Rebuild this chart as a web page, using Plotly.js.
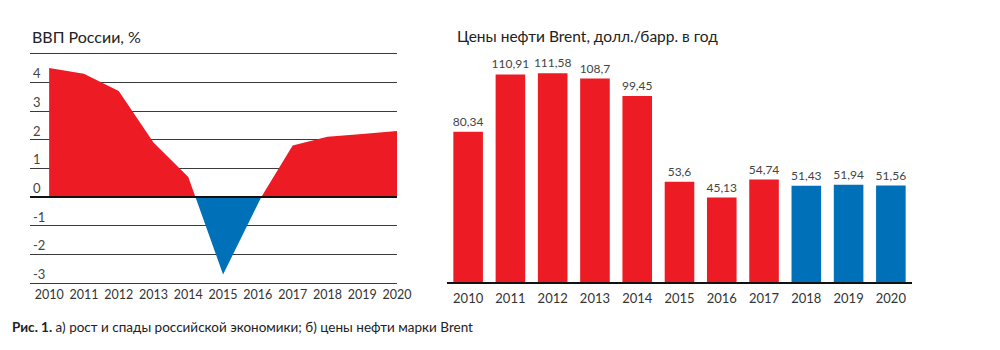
<!DOCTYPE html>
<html><head><meta charset="utf-8">
<script src="https://cdn.plot.ly/plotly-3.0.1.min.js"></script>
<style>html,body{margin:0;padding:0;background:#fff}#chart{width:1000px;height:350px}</style>
</head><body><div id="chart"></div>
<script>
// ---- data ----
const years = [2010, 2011, 2012, 2013, 2014, 2015, 2016, 2017, 2018, 2019, 2020];
const gdpGrowth = [4.5, 4.3, 3.7, 1.9, 0.7, -2.7, -0.2, 1.8, 2.1, 2.2, 2.3];
const gdpTickVals = [-3, -2, -1, 0, 1, 2, 3, 4, 5];
const gdpTickText = ['-3', '-2', '-1', '0', '1', '2', '3', '4', ''];
const brentPrice = [80.34, 110.91, 111.58, 108.7, 99.45, 53.6, 45.13, 54.74, 51.43, 51.94, 51.56];
const forecastFrom = 2018;
const titleGdp = 'ВВП России, %';
const titleBrent = 'Цены нефти Brent, долл./барр. в год';
const caption = '<b>Рис. 1.</b> а) рост и спады российской экономики; б) цены нефти марки Brent';

// ---- styles ----
const RED = '#ed1c24', BLUE = '#0070b8';
const FONT = 'Lato, "Open Sans", sans-serif';

// split series into positive / negative parts with interpolated zero crossings
function splitSign(xs, ys) {
  const px = [], py = [], nx = [], ny = [];
  for (let i = 0; i < xs.length; i++) {
    if (i > 0) {
      const y0 = ys[i - 1], y1 = ys[i];
      if ((y0 > 0 && y1 < 0) || (y0 < 0 && y1 > 0)) {
        const t = y0 / (y0 - y1);
        const xc = xs[i - 1] + t * (xs[i] - xs[i - 1]);
        px.push(xc); py.push(0); nx.push(xc); ny.push(0);
      }
    }
    px.push(xs[i]); py.push(Math.max(ys[i], 0));
    nx.push(xs[i]); ny.push(Math.min(ys[i], 0));
  }
  return { px, py, nx, ny };
}
const parts = splitSign(years, gdpGrowth);

const traces = [
  { type: 'scatter', mode: 'lines', x: parts.px, y: parts.py, fill: 'tozeroy',
    fillcolor: RED, line: { width: 0, color: RED }, xaxis: 'x', yaxis: 'y', hoverinfo: 'skip' },
  { type: 'scatter', mode: 'lines', x: parts.nx, y: parts.ny, fill: 'tozeroy',
    fillcolor: BLUE, line: { width: 0, color: BLUE }, xaxis: 'x', yaxis: 'y', hoverinfo: 'skip' },
  { type: 'bar', x: years, y: brentPrice, xaxis: 'x2', yaxis: 'y2', width: 0.7,
    marker: { color: years.map(y => y >= forecastFrom ? BLUE : RED) },
    text: brentPrice.map(v => String(v).replace('.', ',')),
    textposition: 'outside', cliponaxis: false, constraintext: 'none',
    textfont: { family: FONT, size: 12, color: '#444' }, hoverinfo: 'skip' }
];

// y tick labels of the GDP chart, placed just above each grid line at the left edge
const yTickAnnotations = gdpTickVals.map((v, i) => ({
  text: gdpTickText[i], xref: 'paper', yref: 'y', x: 0.031, y: v,
  xanchor: 'left', yanchor: 'bottom', yshift: -1, showarrow: false,
  font: { size: 13, color: '#444' }
})).filter(a => a.text !== '');

const layout = {
  width: 1000, height: 350,
  margin: { l: 0, r: 0, t: 0, b: 0 },
  paper_bgcolor: '#fff', plot_bgcolor: 'rgba(0,0,0,0)',
  showlegend: false,
  font: { family: FONT, color: '#333' },
  xaxis: {
    domain: [0.030, 0.397], range: [2009.45, 2020], anchor: 'y',
    tickvals: years, ticktext: years.map(String), ticks: '', showgrid: false, zeroline: false,
    showline: false, tickfont: { size: 12.5, color: '#333' }, ticklabelstandoff: 0
  },
  yaxis: {
    domain: [0.1831, 0.8549], range: [-3.1, 5.1], anchor: 'x',
    tickvals: gdpTickVals, showticklabels: false, ticks: '',
    showgrid: true, gridcolor: '#3a3a3a', gridwidth: 1, zeroline: false, showline: false
  },
  xaxis2: {
    domain: [0.447, 0.912], range: [2009.5, 2020.5], anchor: 'y2',
    tickvals: years, ticktext: years.map(String), ticks: '', showgrid: false, zeroline: false,
    showline: true, linecolor: '#111', linewidth: 2,
    tickfont: { size: 13, color: '#333' }, ticklabelstandoff: 3
  },
  yaxis2: {
    domain: [0.1943, 0.86], range: [0, 124.5], anchor: 'x2',
    showticklabels: false, showgrid: false, zeroline: false, showline: false, ticks: ''
  },
  shapes: [
    { type: 'line', xref: 'x domain', x0: 0, x1: 1, yref: 'y', y0: 0, y1: 0,
      line: { color: '#111', width: 2 }, layer: 'above' }
  ],
  annotations: yTickAnnotations.concat([
    { text: titleGdp, xref: 'paper', yref: 'paper', x: 0.030, y: 0.897, xanchor: 'left', yanchor: 'middle',
      showarrow: false, font: { size: 16, color: '#222' } },
    { text: titleBrent, xref: 'paper', yref: 'paper', x: 0.455, y: 0.897, xanchor: 'left', yanchor: 'middle',
      showarrow: false, font: { size: 15.5, color: '#222' } },
    { text: caption, xref: 'paper', yref: 'paper', x: 0.010, y: 0.066, xanchor: 'left', yanchor: 'middle',
      showarrow: false, font: { size: 13.5, color: '#222' } }
  ])
};

Plotly.newPlot('chart', traces, layout, { staticPlot: true, displayModeBar: false });
</script>
</body></html>
